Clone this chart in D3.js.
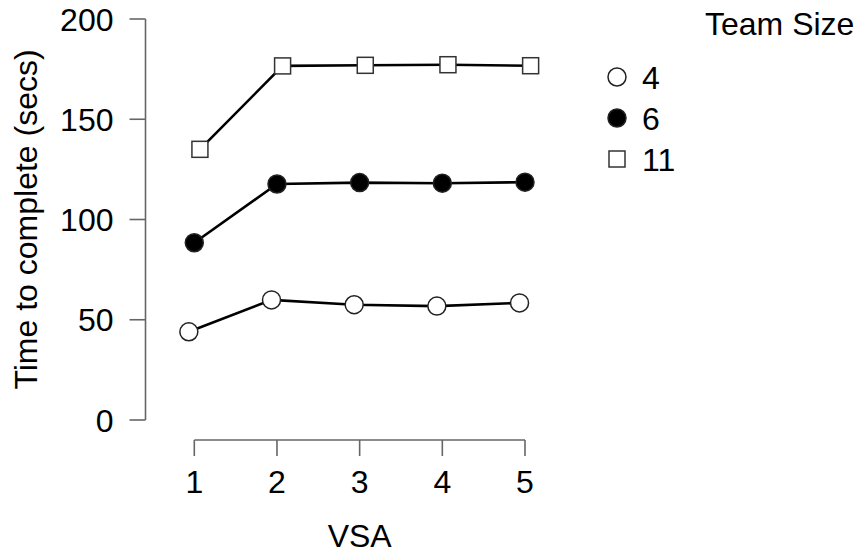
<!DOCTYPE html>
<html>
<head>
<meta charset="utf-8">
<script src="https://cdn.jsdelivr.net/npm/d3@7"></script>
<style>
  html, body { margin: 0; padding: 0; background: #fff; }
  text { font-family: "Liberation Sans", Arial, sans-serif; fill: #000; }
</style>
</head>
<body>
<svg id="chart" width="857" height="554"></svg>
<script>
// VSA levels on the x axis
const vsa = [1, 2, 3, 4, 5];
// Mean completion time (secs) per team size
const team4  = [44.0, 59.9, 57.5, 56.8, 58.4];
const team6  = [88.4, 117.7, 118.4, 118.1, 118.6];
const team11 = [135.0, 176.6, 176.9, 177.2, 176.7];
const yTicks = [0, 50, 100, 150, 200];
const teamLabels = ["4", "6", "11"];

const series = [
  { label: teamLabels[0], values: team4,  shape: "circle", fill: "#fff", dodge: -0.066 },
  { label: teamLabels[1], values: team6,  shape: "circle", fill: "#000", dodge: 0 },
  { label: teamLabels[2], values: team11, shape: "square", fill: "#fff", dodge: 0.068 }
];

const svg = d3.select("#chart");
const x = d3.scaleLinear().domain([1, 5]).range([194.3, 525]);
const y = d3.scaleLinear().domain([0, 200]).range([420, 19]);

const axisColor = "#666";
const fontSize = 32;

// Y axis (detached, R style)
const yAxis = svg.append("g").attr("transform", "translate(145.5,0)");
yAxis.append("line").attr("y1", y(0)).attr("y2", y(200))
  .attr("stroke", axisColor).attr("stroke-width", 1.6);
yAxis.selectAll("line.tick").data(yTicks).join("line")
  .attr("class", "tick").attr("x1", 0).attr("x2", -16)
  .attr("y1", d => y(d)).attr("y2", d => y(d))
  .attr("stroke", axisColor).attr("stroke-width", 1.6);
yAxis.selectAll("text").data(yTicks).join("text")
  .attr("x", -32).attr("y", d => y(d)).attr("dy", "0.36em")
  .attr("text-anchor", "end").attr("font-size", fontSize).text(d => d);

// X axis
const xAxis = svg.append("g").attr("transform", "translate(0,440)");
xAxis.append("line").attr("x1", x(1)).attr("x2", x(5))
  .attr("stroke", axisColor).attr("stroke-width", 1.6);
xAxis.selectAll("line.tick").data(vsa).join("line")
  .attr("class", "tick").attr("x1", d => x(d)).attr("x2", d => x(d))
  .attr("y1", 0).attr("y2", 16)
  .attr("stroke", axisColor).attr("stroke-width", 1.6);
xAxis.selectAll("text").data(vsa).join("text")
  .attr("x", d => x(d)).attr("y", 53)
  .attr("text-anchor", "middle").attr("font-size", fontSize).text(d => d);

// Axis titles
svg.append("text").attr("x", x(3)).attr("y", 547)
  .attr("text-anchor", "middle").attr("font-size", fontSize).text("VSA");
svg.append("text")
  .attr("transform", `translate(37,${(y(0) + y(200)) / 2}) rotate(-90)`)
  .attr("text-anchor", "middle").attr("font-size", fontSize)
  .text("Time to complete (secs)");

function drawMarker(g, shape, fill, cx, cy) {
  if (shape === "circle") {
    g.append("circle").attr("cx", cx).attr("cy", cy).attr("r", 9)
      .attr("fill", fill).attr("stroke", "#222").attr("stroke-width", 1.5);
  } else {
    g.append("rect").attr("x", cx - 8).attr("y", cy - 8)
      .attr("width", 16).attr("height", 16)
      .attr("fill", fill).attr("stroke", "#333").attr("stroke-width", 1.5);
  }
}

// Lines with markers
const line = d3.line();
series.forEach(s => {
  const pts = vsa.map((v, i) => [x(v + s.dodge), y(s.values[i])]);
  svg.append("path").attr("d", line(pts))
    .attr("fill", "none").attr("stroke", "#000").attr("stroke-width", 2.6);
  const g = svg.append("g");
  pts.forEach(p => drawMarker(g, s.shape, s.fill, p[0], p[1]));
});

// Legend
const legend = svg.append("g");
legend.append("text").attr("x", 705).attr("y", 35)
  .attr("font-size", fontSize).text("Team Size");
series.forEach((s, i) => {
  const cy = 77 + i * 41;
  drawMarker(legend, s.shape, s.fill, 617, cy);
  legend.append("text").attr("x", 642).attr("y", cy).attr("dy", "0.36em")
    .attr("font-size", fontSize).text(s.label);
});
</script>
</body>
</html>
